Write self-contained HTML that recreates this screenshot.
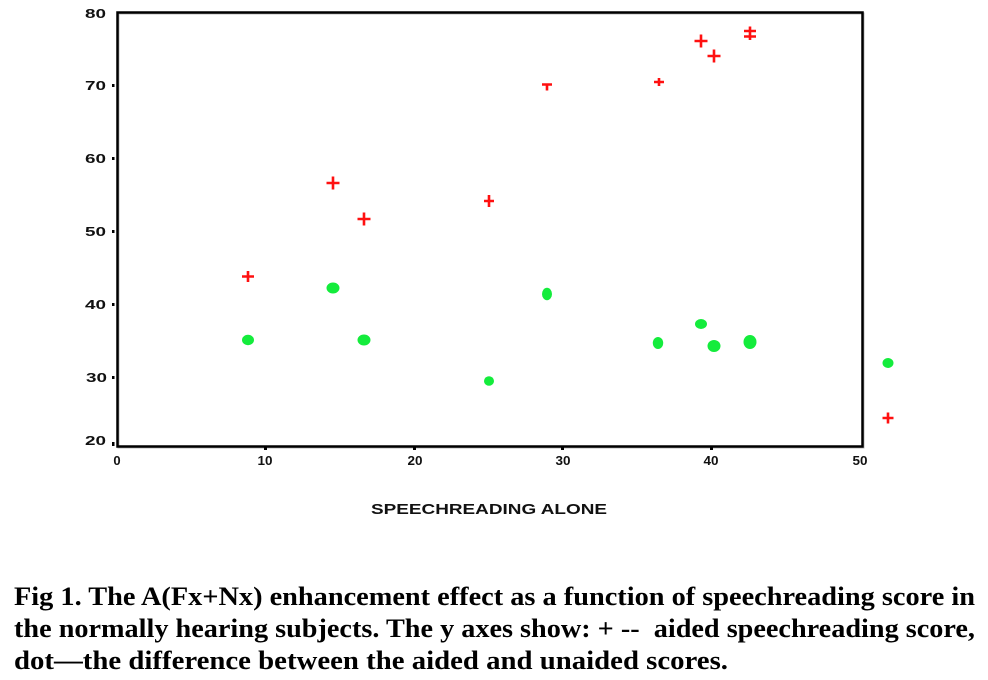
<!DOCTYPE html>
<html>
<head>
<meta charset="utf-8">
<style>
  html, body { margin: 0; padding: 0; background: #ffffff; }
  svg { display: block; }
  .tick { font-family: "Liberation Sans", sans-serif; font-weight: bold; font-size: 13px; fill: #111; }
  .xt { font-family: "Liberation Sans", sans-serif; font-weight: bold; font-size: 13px; fill: #111; }
  .title { font-family: "Liberation Sans", sans-serif; font-weight: bold; font-size: 15px; fill: #111; }
  .cap { font-family: "Liberation Serif", serif; font-weight: bold; font-size: 26px; fill: #000; }
</style>
</head>
<body>
<svg width="988" height="680" viewBox="0 0 988 680" xmlns="http://www.w3.org/2000/svg">
  <rect x="0" y="0" width="988" height="680" fill="#fff"/>
  <rect x="118.5" y="13.5" width="745" height="434" fill="none" stroke="#bbb" stroke-width="2"/>
  <rect x="117.5" y="12.5" width="745" height="434" fill="none" stroke="#000" stroke-width="2.5"/>

  <g fill="#000">
    <rect x="112" y="84" width="2.5" height="3"/>
    <rect x="112" y="157" width="2.5" height="3"/>
    <rect x="112" y="230" width="2.5" height="3"/>
    <rect x="112" y="303" width="2.5" height="3"/>
    <rect x="112" y="376" width="2.5" height="3"/>
    <rect x="112" y="442" width="2.5" height="4"/>
    <rect x="264" y="447" width="3" height="3"/>
    <rect x="413" y="447" width="3" height="3"/>
    <rect x="561" y="447" width="3" height="3"/>
    <rect x="710" y="447" width="3" height="3"/>
  </g>

  <g class="tick" text-anchor="start">
    <text x="85" y="18" textLength="21" lengthAdjust="spacingAndGlyphs">80</text>
    <text x="85" y="90" textLength="21" lengthAdjust="spacingAndGlyphs">70</text>
    <text x="85" y="163" textLength="21" lengthAdjust="spacingAndGlyphs">60</text>
    <text x="85" y="236" textLength="21" lengthAdjust="spacingAndGlyphs">50</text>
    <text x="85" y="309" textLength="21" lengthAdjust="spacingAndGlyphs">40</text>
    <text x="86" y="382" textLength="21" lengthAdjust="spacingAndGlyphs">30</text>
    <text x="85" y="445" textLength="21" lengthAdjust="spacingAndGlyphs">20</text>
  </g>

  <g class="xt" text-anchor="middle">
    <text x="117" y="465">0</text>
    <text x="265" y="465" textLength="15" lengthAdjust="spacingAndGlyphs">10</text>
    <text x="415" y="465" textLength="15" lengthAdjust="spacingAndGlyphs">20</text>
    <text x="563" y="465" textLength="15" lengthAdjust="spacingAndGlyphs">30</text>
    <text x="711" y="465" textLength="15" lengthAdjust="spacingAndGlyphs">40</text>
    <text x="860" y="465" textLength="15" lengthAdjust="spacingAndGlyphs">50</text>
  </g>

  <text class="title" x="371" y="514" textLength="236" lengthAdjust="spacingAndGlyphs">SPEECHREADING ALONE</text>

  <g fill="#14ec3c">
    <ellipse cx="248" cy="340" rx="6" ry="5.2"/>
    <ellipse cx="333" cy="288" rx="6.5" ry="5.5"/>
    <ellipse cx="364" cy="340" rx="6.5" ry="5.5"/>
    <ellipse cx="489" cy="381" rx="5" ry="4.8"/>
    <ellipse cx="547" cy="294" rx="5" ry="6.2"/>
    <ellipse cx="658" cy="343" rx="5.2" ry="6"/>
    <ellipse cx="701" cy="324" rx="6" ry="5"/>
    <ellipse cx="714" cy="346" rx="6.5" ry="6"/>
    <ellipse cx="750" cy="342" rx="6.5" ry="7"/>
    <ellipse cx="888" cy="363" rx="5.5" ry="5"/>
  </g>

  <g stroke="#ff1010" stroke-width="2.6" fill="none">
    <path d="M242 276.5 H254 M248 271 V282"/>
    <path d="M326.5 183 H339.5 M333 176.5 V189.5"/>
    <path d="M357.5 219 H370.5 M364 212.5 V225.5"/>
    <path d="M484 201 H494 M489 195 V207"/>
    <path d="M542 84.5 H552 M547 84 V90.5"/>
    <path d="M654 82 H664 M659 78 V86"/>
    <path d="M694.5 41 H707.5 M701 34.5 V47.5"/>
    <path d="M707.5 56 H720.5 M714 49.5 V62.5"/>
    <path d="M744 31 H756 M744 36.5 H756 M750 26.5 V40"/>
    <path d="M882.5 418 H893.5 M888 412.5 V423.5"/>
  </g>

  <g class="cap">
    <text x="14" y="605" textLength="961" lengthAdjust="spacingAndGlyphs">Fig 1. The A(Fx+Nx) enhancement effect as a function of speechreading score in</text>
    <text x="14" y="637" textLength="961" lengthAdjust="spacingAndGlyphs" xml:space="preserve">the normally hearing subjects. The y axes show: + --  aided speechreading score,</text>
    <text x="14" y="669" textLength="714" lengthAdjust="spacingAndGlyphs">dot—the difference between the aided and unaided scores.</text>
  </g>
</svg>
</body>
</html>
